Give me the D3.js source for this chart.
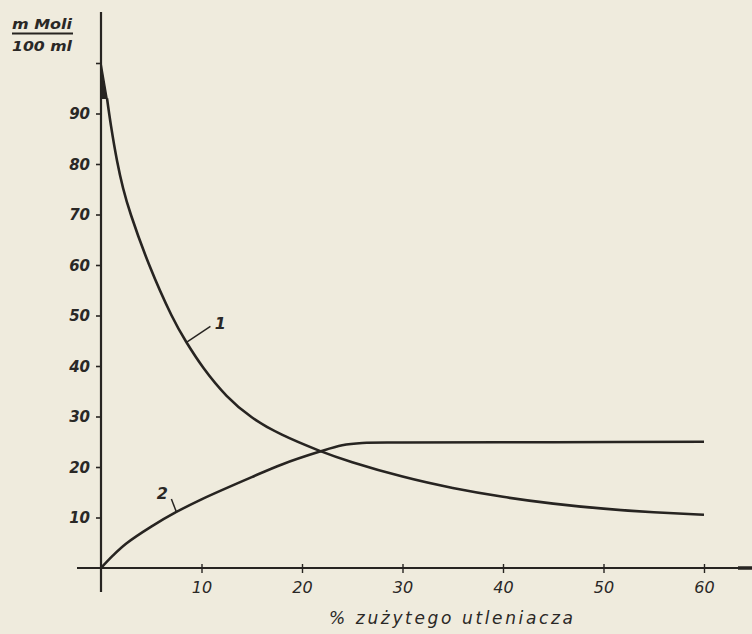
<!DOCTYPE html>
<html>
<head>
<meta charset="utf-8">
<script src="https://cdn.jsdelivr.net/npm/d3@7"></script>
<style>
  html, body { margin: 0; padding: 0; background: #efebdd; }
  svg { display: block; }
  text { font-family: "DejaVu Sans", sans-serif; fill: #2a2826; font-style: italic; }
</style>
</head>
<body>
<svg id="chart" width="752" height="634"></svg>
<script>
// Curve 1: concentration falling as the oxidant is consumed
const curve1Start = [[0, 100], [0.6, 93]];
const curve1 = [
  [0.6, 93], [1.0, 87.5], [1.6, 80.6], [2.2, 75.2], [3.0, 69.8], [4.8, 60], [7.0, 50.1],
  [8.5, 44.7], [10.2, 39.6], [12.5, 34.1], [15, 29.85], [18, 26.4], [21.7, 23.25], [25, 20.95],
  [30, 18.1], [35, 15.85], [40, 14.1], [45, 12.75], [50, 11.75], [55, 11.05], [60, 10.55]
];
// Curve 2: product rising to a plateau
const curve2 = [
  [0, 0], [1.2, 2.5], [2.55, 4.9], [5, 8.2], [7.5, 11.1], [10, 13.6], [15, 18], [18, 20.5],
  [21.7, 23], [24, 24.3], [26, 24.75], [30, 24.85], [45, 24.9], [60, 25]
];
const curveLabels = [
  { name: "1", at: [8.5, 44.7] },
  { name: "2", at: [7.5, 11.1] }
];
const xTicks = [10, 20, 30, 40, 50, 60];
const yTicks = [10, 20, 30, 40, 50, 60, 70, 80, 90, 100];
const yLabelled = [10, 20, 30, 40, 50, 60, 70, 80, 90];
const xTitle = "% zużytego utleniacza";
const yTitleTop = "m Moli";
const yTitleBottom = "100 ml";

const svg = d3.select("#chart");
const ink = "#272421";

const x = d3.scaleLinear().domain([0, 60]).range([101, 704]);
const y = d3.scaleLinear().domain([0, 100]).range([568, 63]);

// Axis lines
svg.append("line")
  .attr("x1", x(0)).attr("x2", x(0)).attr("y1", 12).attr("y2", 592)
  .attr("stroke", ink).attr("stroke-width", 2.2);
svg.append("line")
  .attr("x1", 77).attr("x2", 752).attr("y1", y(0)).attr("y2", y(0))
  .attr("stroke", ink).attr("stroke-width", 2);
svg.append("line")
  .attr("x1", 738).attr("x2", 752).attr("y1", y(0)).attr("y2", y(0))
  .attr("stroke", ink).attr("stroke-width", 3.5);

// Y axis ticks and labels
const yAxis = d3.axisLeft(y)
  .tickValues(yTicks)
  .tickSize(6)
  .tickPadding(6)
  .tickFormat(d => yLabelled.includes(d) ? d : "");
const gy = svg.append("g").attr("transform", `translate(${x(0) + 1},0)`).call(yAxis);
gy.select(".domain").remove();
gy.selectAll(".tick line").attr("stroke", ink).attr("stroke-width", 1.6);
gy.selectAll(".tick text")
  .attr("fill", ink)
  .style("font-size", "15px").style("font-weight", "bold").style("font-style", "italic")
  .attr("dy", "0.36em");

// X axis ticks and labels
const xAxis = d3.axisBottom(x)
  .tickValues(xTicks)
  .tickSizeInner(5).tickSizeOuter(0)
  .tickPadding(9);
const gx = svg.append("g").attr("transform", `translate(0,${y(0) - 4})`).call(xAxis);
gx.select(".domain").remove();
gx.selectAll(".tick line").attr("stroke", ink).attr("stroke-width", 1.4).attr("y2", 9);
gx.selectAll(".tick text")
  .attr("fill", ink)
  .style("font-size", "16px").style("font-style", "italic")
  .attr("dy", "0.95em");

// Curves
const smooth = d3.line().x(d => x(d[0])).y(d => y(d[1])).curve(d3.curveNatural);
const line = d3.line().x(d => x(d[0])).y(d => y(d[1])).curve(d3.curveCatmullRom.alpha(0.5));
svg.append("path")
  .datum(curve1Start)
  .attr("d", d3.area().x0(x(0)).x1(d => x(d[0])).y(d => y(d[1])))
  .attr("fill", ink).attr("stroke", ink).attr("stroke-width", 1.5);
svg.append("path")
  .datum(curve1)
  .attr("d", smooth)
  .attr("fill", "none").attr("stroke", ink).attr("stroke-width", 2.6);
svg.append("path")
  .datum(curve2)
  .attr("d", line)
  .attr("fill", "none").attr("stroke", ink).attr("stroke-width", 2.6);

// Curve labels with leader lines
const lab1 = curveLabels[0], lab2 = curveLabels[1];
svg.append("line")
  .attr("x1", x(lab1.at[0])).attr("y1", y(lab1.at[1]))
  .attr("x2", x(lab1.at[0]) + 24).attr("y2", y(lab1.at[1]) - 16)
  .attr("stroke", ink).attr("stroke-width", 1.5);
svg.append("text")
  .attr("x", x(lab1.at[0]) + 34).attr("y", y(lab1.at[1]) - 13)
  .attr("text-anchor", "middle")
  .style("font-size", "16px").style("font-weight", "bold")
  .text(lab1.name);
svg.append("line")
  .attr("x1", x(lab2.at[0])).attr("y1", y(lab2.at[1]))
  .attr("x2", x(lab2.at[0]) - 5).attr("y2", y(lab2.at[1]) - 13)
  .attr("stroke", ink).attr("stroke-width", 1.5);
svg.append("text")
  .attr("x", x(lab2.at[0]) - 14).attr("y", y(lab2.at[1]) - 13)
  .attr("text-anchor", "middle")
  .style("font-size", "16px").style("font-weight", "bold")
  .text(lab2.name);

// Axis titles
svg.append("text")
  .attr("x", 12).attr("y", 29)
  .attr("textLength", 60).attr("lengthAdjust", "spacingAndGlyphs")
  .style("font-size", "14px").style("font-weight", "bold")
  .text(yTitleTop);
svg.append("line")
  .attr("x1", 12).attr("x2", 73).attr("y1", 33.5).attr("y2", 33.5)
  .attr("stroke", ink).attr("stroke-width", 2);
svg.append("text")
  .attr("x", 12).attr("y", 51)
  .attr("textLength", 60).attr("lengthAdjust", "spacingAndGlyphs")
  .style("font-size", "14px").style("font-weight", "bold")
  .text(yTitleBottom);

svg.append("text")
  .attr("x", 329).attr("y", 624)
  .attr("textLength", 244).attr("lengthAdjust", "spacing")
  .style("font-size", "17px")
  .text(xTitle);
</script>
</body>
</html>
